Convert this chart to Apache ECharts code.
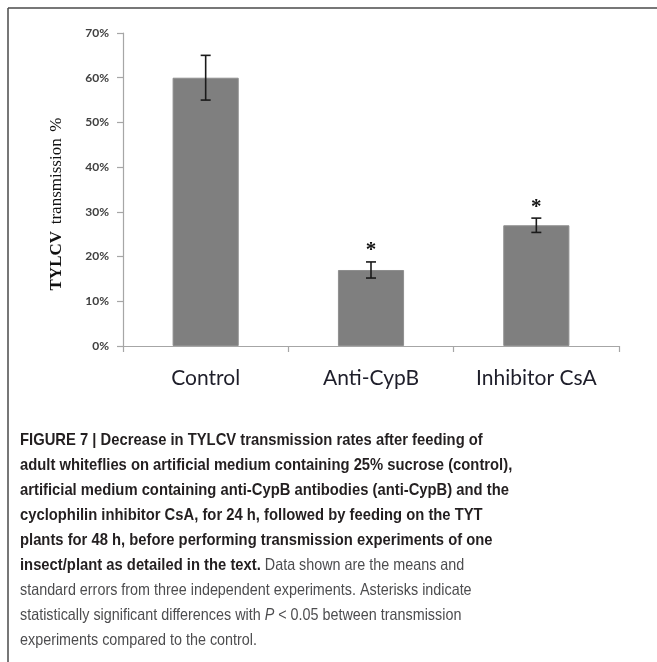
<!DOCTYPE html>
<html>
<head>
<meta charset="utf-8">
<script src="https://cdn.jsdelivr.net/npm/echarts@6/dist/echarts.min.js"></script>
<style>
html,body{margin:0;padding:0;background:#fff;}
#chart{width:657px;height:662px;}
</style>
</head>
<body>
<div id="chart"></div>
<script>
// ---- data ----
var categories = ['Control', 'Anti-CypB', 'Inhibitor CsA'];
var means = [60, 17, 27];
var stdErr = [5, 1.8, 1.6];
var sigMarks = ['', '*', '*'];
var yTicks = [0, 10, 20, 30, 40, 50, 60, 70];

var captionLines = [
  [{t: 'FIGURE 7 | Decrease in TYLCV transmission rates after feeding of', s: 'b'}],
  [{t: 'adult whiteflies on artificial medium containing 25% sucrose (control),', s: 'b'}],
  [{t: 'artificial medium containing anti-CypB antibodies (anti-CypB) and the', s: 'b'}],
  [{t: 'cyclophilin inhibitor CsA, for 24 h, followed by feeding on the TYT', s: 'b'}],
  [{t: 'plants for 48 h, before performing transmission experiments of one', s: 'b'}],
  [{t: 'insect/plant as detailed in the text.', s: 'b'}, {t: ' Data shown are the means and', s: 'r'}],
  [{t: 'standard errors from three independent experiments. Asterisks indicate', s: 'r'}],
  [{t: 'statistically significant differences with ', s: 'r'}, {t: 'P', s: 'i'}, {t: ' < 0.05 between transmission', s: 'r'}],
  [{t: 'experiments compared to the control.', s: 'r'}]
];

var chart = echarts.init(document.getElementById('chart'), null, {renderer: 'canvas'});

var errData = categories.map(function (c, i) { return [i, means[i] - stdErr[i], means[i] + stdErr[i], sigMarks[i]]; });

var capRich = {
  b: {fontFamily: '"Liberation Sans", Arial, sans-serif', fontWeight: 'bold', fontSize: 17, fill: '#231f20', color: '#231f20'},
  r: {fontFamily: '"Liberation Sans", Arial, sans-serif', fontWeight: 'normal', fontSize: 16.5, fill: '#4d4d4f', color: '#4d4d4f'},
  i: {fontFamily: '"Liberation Sans", Arial, sans-serif', fontStyle: 'italic', fontSize: 16.5, fill: '#4d4d4f', color: '#4d4d4f'}
};

var graphics = [
  {type: 'line', shape: {x1: 8, y1: 8, x2: 657, y2: 8}, style: {stroke: '#4a4a4a', lineWidth: 1.5}, silent: true},
  {type: 'line', shape: {x1: 8, y1: 8, x2: 8, y2: 662}, style: {stroke: '#4a4a4a', lineWidth: 1.5}, silent: true},
  {
    type: 'text', x: 57, y: 204, rotation: Math.PI / 2,
    style: {
      text: '{a|TYLCV}  {b|transmission}  {c|%}',
      align: 'center', verticalAlign: 'middle',
      rich: {
        a: {fontFamily: '"Liberation Serif", "Times New Roman", serif', fontWeight: 'bold', fontSize: 17, fill: '#111', color: '#111'},
        b: {fontFamily: '"Liberation Serif", "Times New Roman", serif', fontSize: 17, fill: '#111', color: '#111'},
        c: {fontFamily: '"Liberation Serif", "Times New Roman", serif', fontSize: 17, fill: '#111', color: '#111'}
      }
    }
  }
];

captionLines.forEach(function (line, k) {
  var txt = line.map(function (p) { return '{' + p.s + '|' + p.t + '}'; }).join('');
  graphics.push({
    type: 'text', x: 20, y: 440 + k * 25.1, scaleX: 0.87, scaleY: 1,
    style: {text: txt, align: 'left', verticalAlign: 'middle', rich: capRich}
  });
});

var option = {
  animation: false,
  backgroundColor: '#fff',
  grid: {left: 123, right: 38, top: 33, bottom: 316},
  xAxis: {
    type: 'category',
    data: categories,
    axisLine: {lineStyle: {color: '#a6a6a6', width: 1.2}},
    axisTick: {show: true, length: 6, lineStyle: {color: '#a6a6a6', width: 1.2}},
    axisLabel: {fontFamily: 'Lato, "Open Sans", sans-serif', fontSize: 21, color: '#1e1e2a', margin: 22}
  },
  yAxis: {
    type: 'value',
    min: yTicks[0], max: yTicks[yTicks.length - 1], interval: 10,
    axisLine: {show: true, lineStyle: {color: '#a6a6a6', width: 1.2}},
    axisTick: {show: true, length: 6, lineStyle: {color: '#a6a6a6', width: 1.2}},
    splitLine: {show: false},
    axisLabel: {formatter: '{value}%', fontFamily: 'Lato, sans-serif', fontWeight: 'bold', fontSize: 12, color: '#404040', margin: 14}
  },
  series: [
    {
      type: 'bar',
      data: means,
      barWidth: '40%',
      itemStyle: {color: '#7f7f7f', borderColor: '#8e8e8e', borderWidth: 1},
      silent: true
    },
    {
      type: 'custom',
      data: errData,
      silent: true,
      z: 10,
      renderItem: function (params, api) {
        var i = api.value(0);
        var lo = api.coord([i, api.value(1)]);
        var hi = api.coord([i, api.value(2)]);
        var hw = 5;
        var st = {stroke: '#1a1a1a', lineWidth: 1.6};
        var children = [
          {type: 'line', shape: {x1: hi[0], y1: hi[1], x2: lo[0], y2: lo[1]}, style: st},
          {type: 'line', shape: {x1: hi[0] - hw, y1: hi[1], x2: hi[0] + hw, y2: hi[1]}, style: st},
          {type: 'line', shape: {x1: lo[0] - hw, y1: lo[1], x2: lo[0] + hw, y2: lo[1]}, style: st}
        ];
        var mark = sigMarks[params.dataIndex];
        if (mark) {
          children.push({
            type: 'text', x: hi[0], y: hi[1] - 11,
            style: {text: mark, align: 'center', verticalAlign: 'middle', fontFamily: '"Liberation Serif", serif', fontWeight: 'bold', fontSize: 21, fill: '#111'}
          });
        }
        return {type: 'group', children: children};
      }
    }
  ],
  graphic: graphics
};
chart.setOption(option);
</script>
</body>
</html>
